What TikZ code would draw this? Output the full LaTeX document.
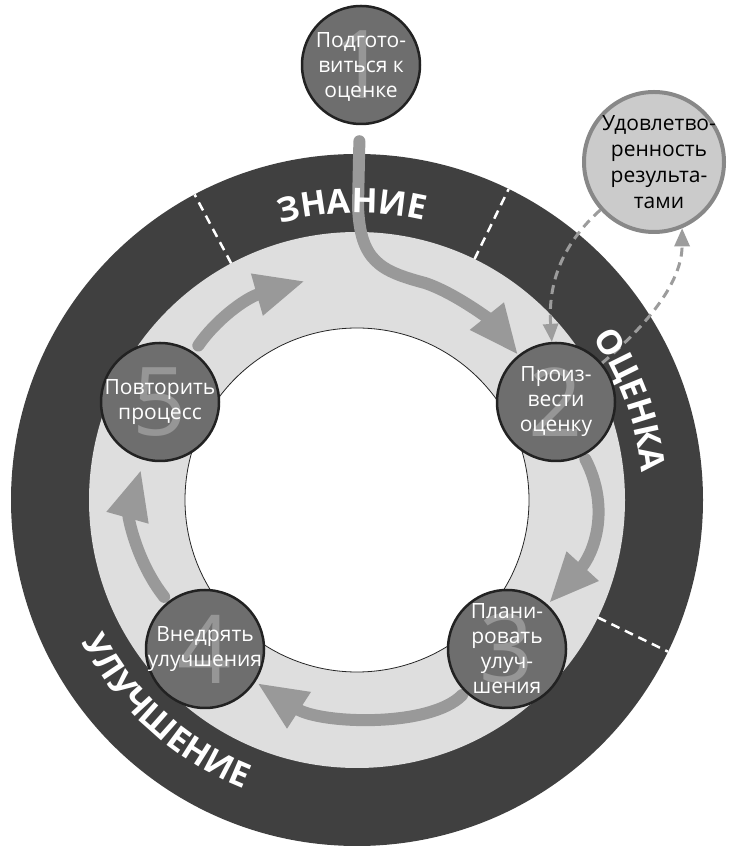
\documentclass[tikz,border=0pt]{standalone}
\usepackage{fontspec}
\setmainfont{Open Sans}
\usetikzlibrary{arrows.meta,decorations.text}
\definecolor{ringdark}{HTML}{404040}
\definecolor{ringlight}{HTML}{DEDEDE}
\definecolor{stagefill}{HTML}{6E6E6E}
\definecolor{stageline}{HTML}{222222}
\definecolor{digitgray}{HTML}{969696}
\definecolor{flowgray}{HTML}{999999}
\definecolor{satfill}{HTML}{CBCBCB}
\definecolor{satline}{HTML}{888888}
\definecolor{dashgray}{HTML}{9C9C9C}
\newcommand\bandfnt{\bfseries\fontsize{34}{34}\selectfont}
\pgfdeclarelayer{ringlayer}
\pgfdeclarelayer{flowlayer}
\pgfsetlayers{ringlayer,flowlayer,main}
\tikzset{
  stage/.style={circle, fill=stagefill, draw=stageline, line width=2.5pt, minimum size=118pt, inner sep=0pt},
  digit/.style={text=digitgray, font=\fontsize{95}{95}\selectfont, inner sep=0pt},
  stagetext/.style={text=white, align=center, font=\fontsize{21}{25}\selectfont, inner sep=0pt},
  sattext/.style={text=black, align=center, font=\fontsize{21}{26}\selectfont, inner sep=0pt},
  satnode/.style={circle, fill=satfill, draw=satline, line width=4pt, minimum size=140pt, inner sep=0pt},
  flow/.style={draw=flowgray, line width=12pt, line cap=round, -{Triangle[length=50pt,width=40pt]}},
  dflow/.style={draw=dashgray, line width=3pt, dash pattern=on 9pt off 6pt, -{Triangle[length=18pt,width=15pt]}},
  sepline/.style={draw=white, line width=2.5pt, dash pattern=on 9pt off 6pt},
}
\begin{document}
\begin{tikzpicture}[x=1pt,y=1pt]
\useasboundingbox (0,0) rectangle (729,846);
\coordinate (C) at (357,346);
% stages (main layer, on top)
\node[stage] (n1) at (361,781) {};
\node[stage] (n2) at (556,444) {};
\node[stage] (n3) at (507,197) {};
\node[stage] (n4) at (205,197) {};
\node[stage] (n5) at (160,444) {};
\node[satnode] (sat) at (654,684) {};
\node[digit] at (n1) {1};
\node[digit] at (n2) {2};
\node[digit] at (n3) {3};
\node[digit] at (n4) {4};
\node[digit] at (n5) {5};
\node[stagetext] at ([yshift=-2pt]n1) {Подгото-\\виться к\\оценке};
\node[stagetext] at (n2) {Произ-\\вести\\оценку};
\node[stagetext] at (n3) {Плани-\\ровать\\улуч-\\шения};
\node[stagetext] at (n4) {Внедрять\\улучшения};
\node[stagetext] at (n5) {Повторить\\процесс};
\node[sattext] at ([xshift=5pt]sat) {Удовлетво-\\ренность\\результа-\\тами};
\coordinate (a5e) at (305,565);
\begin{pgfonlayer}{ringlayer}
\fill[ringdark] (C) circle[radius=346];
\fill[ringlight] (C) circle[radius=268];
\filldraw[fill=white, draw=black!85, line width=0.8pt] (C) circle[radius=172];
\draw[sepline] (C) ++(118:268) -- ++(118:78);
\draw[sepline] (C) ++(64:268) -- ++(64:78);
\draw[sepline] (C) ++(-26:268) -- ++(-26:78);
\end{pgfonlayer}
\begin{pgfonlayer}{flowlayer}
\draw[flow, shorten <=16pt] (n1) -- (358,640) .. controls (360,585) and (380,575) .. (425,563) .. controls (455,553) and (490,526) .. (n2);
\draw[flow, shorten <=4pt, shorten >=2pt] (n2) .. controls (612,335) and (592,290) .. (n3);
\draw[flow, shorten <=4pt, shorten >=2pt] (n3) .. controls (430,118) and (320,122) .. (n4);
\draw[flow, shorten <=6pt, shorten >=10pt] (n4) .. controls (136,285) and (128,330) .. (n5);
\draw[flow, shorten <=8pt] (n5) .. controls (215,525) and (245,548) .. (a5e);
\draw[dflow] (sat) .. controls (560,600) and (548,560) .. (n2);
\draw[dflow] (n2) .. controls (640,515) and (682,560) .. (sat.-67);
\path[decorate, decoration={text along path, text={|\bandfnt|ЗНАНИЕ}, text align=center, text color=white}]
  (C) ++(136:287) arc[start angle=136, end angle=46, radius=287];
\path[decorate, decoration={text along path, text={|\bandfnt|ОЦЕНКА}, text align=center, text color=white}]
  (C) ++(65:286) arc[start angle=65, end angle=-25, radius=286];
\path[decorate, decoration={text along path, text={|\bandfnt|УЛУЧШЕНИЕ}, text align=center, text color=white}]
  (C) ++(173:310) arc[start angle=173, end angle=283, radius=310];
\end{pgfonlayer}
\end{tikzpicture}
\end{document}
